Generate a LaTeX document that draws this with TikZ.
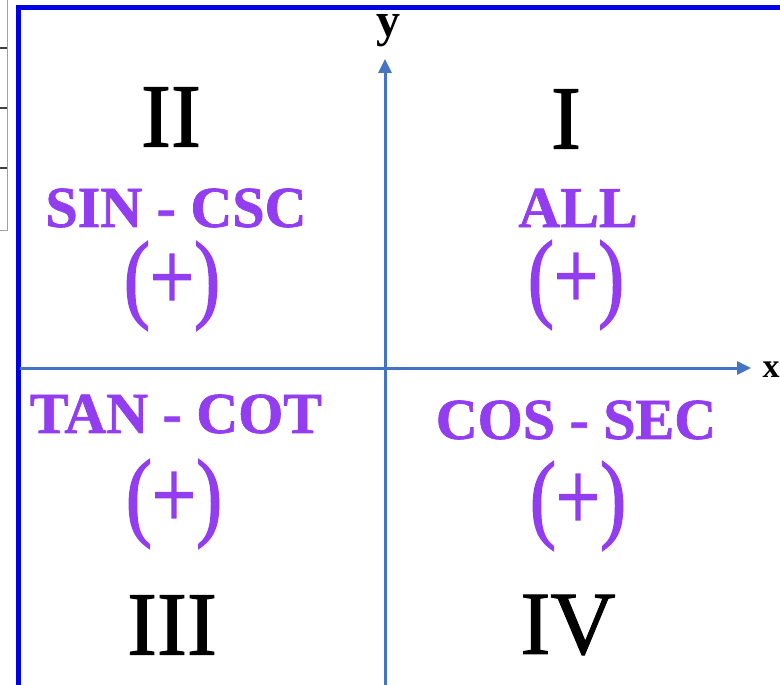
\documentclass[tikz,border=0pt]{standalone}
\usepackage{fontspec}
\setmainfont{Liberation Serif}
\newfontfamily\romanfont[FakeBold=1.2]{Liberation Serif}
\newfontfamily\trigfont[UprightFont=* Bold, FakeBold=1.2]{Liberation Serif}
\newfontfamily\signfont[FakeBold=1.6]{Liberation Serif}
\usetikzlibrary{arrows.meta}
\definecolor{frameblue}{RGB}{0,0,228}
\definecolor{axisblue}{RGB}{70,116,196}
\definecolor{trigpurple}{RGB}{146,62,240}
\definecolor{tablegray}{RGB}{160,160,160}
\newcommand\possign{\scalebox{0.8}[1]{(+)}}
\begin{document}
\begin{tikzpicture}[x=1pt,y=-1pt,
  roman/.style={font=\romanfont\fontsize{90}{90}\selectfont, text=black, inner sep=0pt},
  trig/.style={font=\trigfont\fontsize{58}{58}\selectfont, text=trigpurple, inner sep=0pt},
  sign/.style={font=\signfont\fontsize{98}{98}\selectfont, text=trigpurple, inner sep=0pt},
  axisline/.style={draw=axisblue, line width=3pt, -{Triangle[length=14pt,width=13pt]}},
  axlabel/.style={text=black, inner sep=0pt}]
\useasboundingbox (0,0) rectangle (780,685);
% table fragment at left
\draw[tablegray, line width=1pt] (7,0) -- (7,230) -- (0,230);
\foreach \yy in {48,108,168} \draw[black!75, line width=1.2pt] (0,\yy) -- (7,\yy);
% frame
\draw[frameblue, line width=4.6pt] (18.3,7.5) rectangle (820,720);
% axes
\coordinate (xs) at (20,368);
\coordinate (xe) at (751,368);
\coordinate (ys) at (385,685);
\coordinate (ye) at (385,59);
\draw[axisline] (xs) -- (xe);
\draw[axisline] (ys) -- (ye);
\node[axlabel, font=\fontsize{48}{48}\selectfont\bfseries] (ylab) at (388,30.5) {y};
\node[axlabel, font=\fontsize{34}{34}\selectfont\bfseries] (xlab) at (771,370) {x};
% quadrant numerals
\node[roman] (q2) at (171,117) {II};
\node[roman] (q1) at (566,119) {I};
\node[roman] (q3) at (172,625) {III};
\node[roman] (q4) at (568,625) {IV};
% trig labels
\node[trig] (t2) at (176,208) {SIN - CSC};
\node[trig] (t1) at (578,208) {ALL};
\node[trig] (t3) at (176,414) {TAN - COT};
\node[trig] (t4) at (576,420) {COS - SEC};
% signs
\node[sign] (s2) at (172,286) {\possign};
\node[sign] (s1) at (576,285) {\possign};
\node[sign] (s3) at (174,504) {\possign};
\node[sign] (s4) at (578,506) {\possign};
\end{tikzpicture}
\end{document}
